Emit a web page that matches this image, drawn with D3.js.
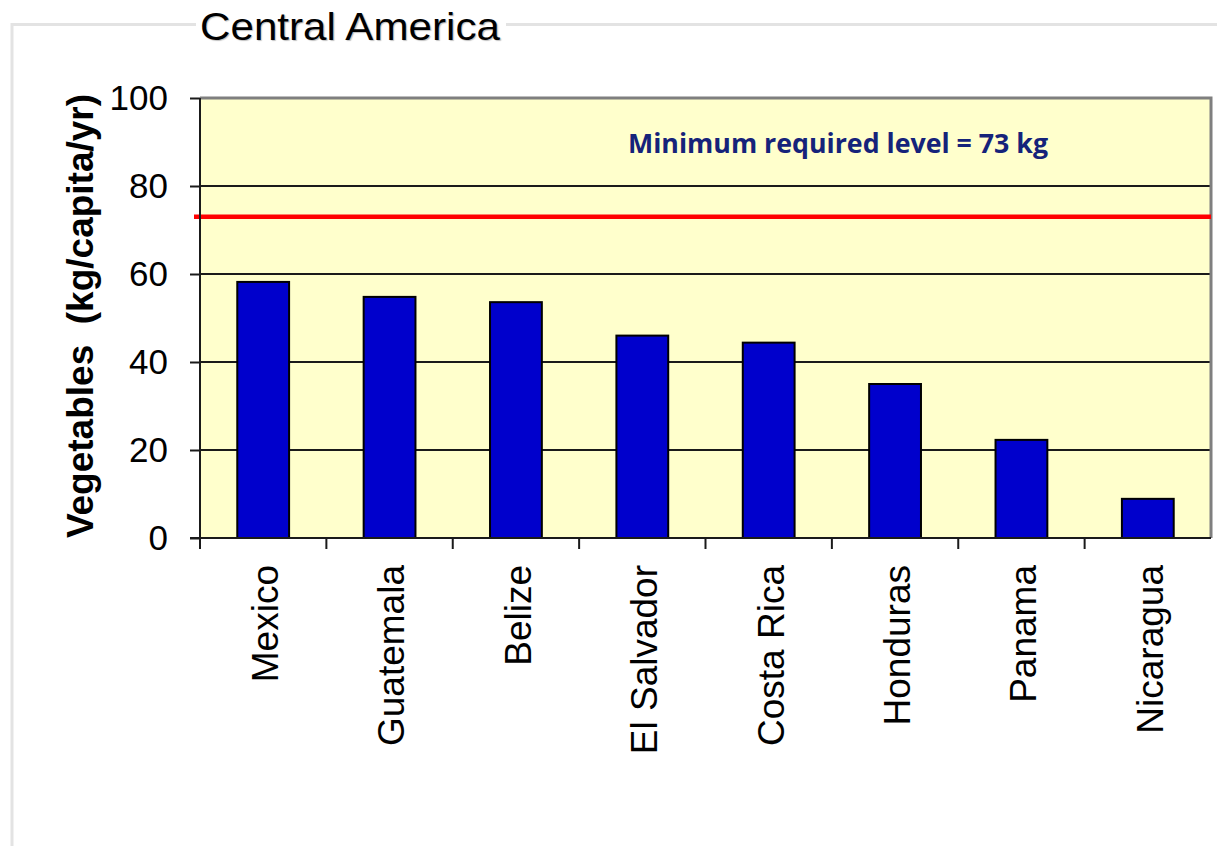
<!DOCTYPE html>
<html>
<head>
<meta charset="utf-8">
<script src="https://cdn.jsdelivr.net/npm/d3@7"></script>
<style>
  html, body { margin: 0; padding: 0; background: #ffffff; }
  svg { display: block; }
</style>
</head>
<body>
<script>
// Vegetable supply per person, Central America
const countries = ["Mexico", "Guatemala", "Belize", "El Salvador", "Costa Rica", "Honduras", "Panama", "Nicaragua"];
const vegetables = [58.2, 54.8, 53.6, 46.0, 44.4, 35.0, 22.3, 8.9];
const minimumLevel = 73;
const yTicks = [0, 20, 40, 60, 80, 100];
const titleText = "Central America";
const yAxisTitle = "Vegetables  (kg/capita/yr)";
const minLabel = "Minimum required level = 73 kg";

const W = 1217, H = 846;
const plot = { left: 200, right: 1211, top: 98, bottom: 538 };

const svg = d3.select("body").append("svg")
  .attr("width", W).attr("height", H);

// outer frame
svg.append("path")
  .attr("d", `M12,${H} L12,24.5 L${W},24.5`)
  .attr("fill", "none").attr("stroke", "#e3e3e3").attr("stroke-width", 3);

// title with a white backing
const title = svg.append("g");
title.append("rect").attr("x", 196).attr("y", 8).attr("width", 310).attr("height", 36).attr("fill", "#fff");
title.append("text")
  .attr("x", 200).attr("y", 40)
  .attr("font-family", "Liberation Sans, Arial, sans-serif")
  .attr("font-size", 39)
  .attr("textLength", 300)
  .attr("lengthAdjust", "spacingAndGlyphs")
  .attr("fill", "#000")
  .style("text-shadow", "1px 1px 1px rgba(0,0,0,0.25)")
  .text(titleText);

const x = d3.scaleBand().domain(countries)
  .range([plot.left, plot.right])
  .paddingInner(0.59).paddingOuter(0.295);

const y = d3.scaleLinear().domain([0, 100]).range([plot.bottom, plot.top]);

// plot background
svg.append("rect")
  .attr("x", plot.left).attr("y", plot.top)
  .attr("width", plot.right - plot.left).attr("height", plot.bottom - plot.top)
  .attr("fill", "#ffffcc");

// gridlines
svg.append("g").selectAll("line")
  .data(yTicks.filter(t => t > 0 && t < 100))
  .join("line")
  .attr("x1", plot.left).attr("x2", plot.right)
  .attr("y1", d => y(d)).attr("y2", d => y(d))
  .attr("stroke", "#1a1a1a").attr("stroke-width", 2.2);

// top and right border of the plot area
svg.append("path")
  .attr("d", `M${plot.left},${y(100)} L${plot.right},${y(100)} L${plot.right},${plot.bottom}`)
  .attr("fill", "none").attr("stroke", "#7f7f7f").attr("stroke-width", 3);

// bars
svg.append("g").selectAll("rect")
  .data(countries)
  .join("rect")
  .attr("x", d => x(d))
  .attr("width", x.bandwidth())
  .attr("y", (d, i) => y(vegetables[i]))
  .attr("height", (d, i) => y(0) - y(vegetables[i]))
  .attr("fill", "#0000cc")
  .attr("stroke", "#000").attr("stroke-width", 2);

// minimum required level
svg.append("line")
  .attr("x1", plot.left - 6).attr("x2", plot.right)
  .attr("y1", y(minimumLevel)).attr("y2", y(minimumLevel))
  .attr("stroke", "#ff0000").attr("stroke-width", 4.5);

svg.append("text")
  .attr("x", 628).attr("y", 153)
  .attr("font-family", "'Open Sans', Lato, sans-serif")
  .attr("font-weight", "bold")
  .attr("font-size", 26)
  .attr("textLength", 420)
  .attr("lengthAdjust", "spacingAndGlyphs")
  .attr("fill", "#15237a")
  .text(minLabel);

// y axis
const yAxis = svg.append("g")
  .attr("transform", `translate(${plot.left},0)`)
  .call(d3.axisLeft(y).tickValues(yTicks).tickSize(10).tickPadding(22).tickFormat(d3.format("d")));
yAxis.select(".domain").attr("d", `M0,${y(100)} L0,${plot.bottom + 11}`).attr("stroke", "#1a1a1a").attr("stroke-width", 2);
yAxis.selectAll(".tick line").attr("stroke", "#1a1a1a").attr("stroke-width", 2);
yAxis.selectAll(".tick text")
  .attr("font-family", "Liberation Sans, Arial, sans-serif")
  .attr("font-size", 35)
  .attr("fill", "#000");

// x axis baseline and category boundary ticks
const step = x.step();
const bounds = countries.map(c => x(c) - step * x.paddingInner() / 2).concat([plot.right]);
svg.append("line")
  .attr("x1", plot.left - 10).attr("x2", plot.right)
  .attr("y1", plot.bottom).attr("y2", plot.bottom)
  .attr("stroke", "#1a1a1a").attr("stroke-width", 2);
svg.append("g").selectAll("line")
  .data(bounds.slice(1, -1))
  .join("line")
  .attr("x1", d => d).attr("x2", d => d)
  .attr("y1", plot.bottom).attr("y2", plot.bottom + 11)
  .attr("stroke", "#1a1a1a").attr("stroke-width", 2);

// category labels
const xAxis = svg.append("g")
  .attr("transform", `translate(0,${plot.bottom})`)
  .call(d3.axisBottom(x).tickSize(0).tickPadding(0));
xAxis.select(".domain").remove();
xAxis.selectAll(".tick text")
  .attr("font-family", "Liberation Sans, Arial, sans-serif")
  .attr("font-size", 37)
  .attr("fill", "#000")
  .attr("text-anchor", "end")
  .attr("transform", "rotate(-90)")
  .attr("x", -27).attr("y", 0).attr("dy", "0.4em");

// y axis title
svg.append("text")
  .attr("transform", `translate(93,316) rotate(-90)`)
  .attr("text-anchor", "middle")
  .attr("font-family", "Liberation Sans, Arial, sans-serif")
  .attr("font-weight", "bold")
  .attr("font-size", 37)
  .attr("fill", "#000")
  .style("white-space", "pre")
  .text(yAxisTitle);
</script>
</body>
</html>
